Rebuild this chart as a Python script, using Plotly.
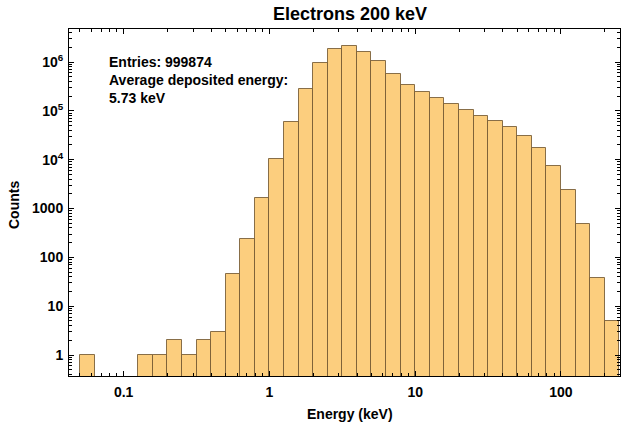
import numpy as np
import plotly.graph_objects as go

# Histogram of deposited energy: log-spaced bins, 10 per decade.
# bin_index k covers 10^(k/10) .. 10^((k+1)/10) keV
bin_index = [-13, -9, -8, -7, -6, -5, -4, -3, -2, -1, 0, 1, 2, 3, 4, 5, 6, 7, 8,
             9, 10, 11, 12, 13, 14, 15, 16, 17, 18, 19, 20, 21, 22, 23]
counts = [1, 1, 1, 2, 1, 2, 3, 46, 234, 1620, 10190, 59100, 276000, 940000,
          1820000, 2090000, 1600000, 1030000, 569000, 334000, 240000, 180000,
          136000, 103000, 79600, 62000, 46000, 30100, 17100, 7430, 2390, 475, 37, 5]

x_tick_vals = [0.1, 1, 10, 100]
x_tick_text = ["0.1", "1", "10", "100"]
y_tick_vals = [1, 10, 100, 1000, 1e4, 1e5, 1e6]
y_tick_text = ["1", "10", "100", "1000", "10<sup>4</sup>", "10<sup>5</sup>", "10<sup>6</sup>"]

title = "Electrons 200 keV"
stats_lines = ["Entries: 999874", "Average deposited energy:", "5.73 keV"]

# x axis is drawn in log10(energy) units
bin_width = 0.1
centers = [(k + 0.5) * bin_width for k in bin_index]

x_range = [-1.375, 2.405]
y_range = [-0.43, 6.676]

x_minor = []
for d in range(-2, 3):
    for m in range(2, 10):
        v = np.log10(m * 10.0 ** d)
        if x_range[0] <= v <= x_range[1]:
            x_minor.append(v)
y_minor = [m * 10.0 ** d for d in range(-1, 7) for m in range(2, 10)]

font = "Liberation Sans, Arial, Helvetica, sans-serif"

fig = go.Figure()
fig.add_trace(go.Bar(
    x=centers, y=counts, width=bin_width,
    marker=dict(color="rgb(252,206,126)",
                line=dict(color="rgba(115,88,50,0.85)", width=1)),
    hoverinfo="skip",
))

axis_common = dict(
    showline=True, linecolor="black", linewidth=1, mirror="allticks",
    ticks="inside", tickcolor="black", ticklen=5, tickwidth=1,
    showgrid=False, zeroline=False,
    tickfont=dict(family=font, size=14, color="black", weight="bold"),
)

fig.update_layout(
    width=623, height=429,
    margin=dict(l=69, r=3, t=29, b=53),
    paper_bgcolor="white", plot_bgcolor="white",
    showlegend=False, bargap=0,
    xaxis=dict(
        range=x_range, tickmode="array",
        tickvals=[np.log10(v) for v in x_tick_vals], ticktext=x_tick_text,
        minor=dict(tickmode="array", tickvals=x_minor, ticks="inside",
                   ticklen=3, tickcolor="black", showgrid=False),
        ticklabelstandoff=3,
        **axis_common,
    ),
    yaxis=dict(
        type="log", range=y_range, tickmode="array",
        tickvals=y_tick_vals, ticktext=y_tick_text,
        minor=dict(tickmode="array", tickvals=y_minor, ticks="inside",
                   ticklen=3, tickcolor="black", showgrid=False),
        ticklabelstandoff=2,
        **axis_common,
    ),
)

pw, ph = 551.0, 347.0
def px(xp):
    return (xp - 69) / pw
def py(yp):
    return (376 - yp) / ph

ann = [
    dict(text=f"<b>{title}</b>", x=px(350), y=py(14), font=dict(size=18)),
    dict(text="<b>Energy (keV)</b>", x=px(350), y=py(414), font=dict(size=14)),
    dict(text="<b>Counts</b>", x=px(14), y=py(205), textangle=-90, font=dict(size=14)),
]
for line, yc in zip(stats_lines, [61.7, 80.0, 98.3]):
    ann.append(dict(text=f"<b>{line}</b>", x=px(107), y=py(yc), xanchor="left",
                    font=dict(size=14)))

for a in ann:
    a.setdefault("xanchor", "center")
    a.update(xref="paper", yref="paper", yanchor="middle", showarrow=False)
    a["font"].update(family=font, color="black")
    fig.add_annotation(**a)

fig.write_html("out.html")
